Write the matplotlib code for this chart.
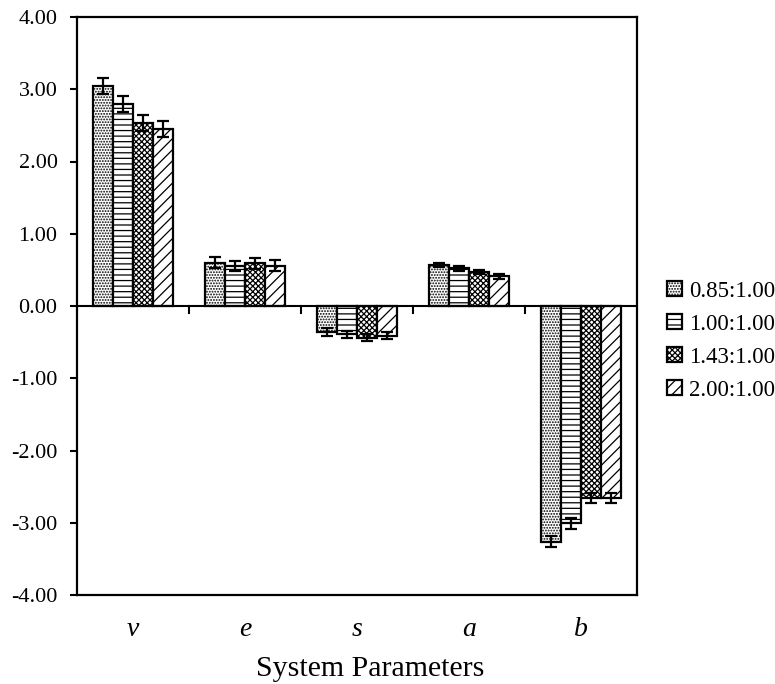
import matplotlib
matplotlib.use("Agg")
import matplotlib.pyplot as plt
import numpy as np

categories = ["v", "e", "s", "a", "b"]
series_names = ["0.85:1.00", "1.00:1.00", "1.43:1.00", "2.00:1.00"]
vals_085 = [3.04, 0.60, -0.36, 0.57, -3.26]
vals_100 = [2.80, 0.55, -0.39, 0.52, -3.01]
vals_143 = [2.53, 0.59, -0.44, 0.47, -2.66]
vals_200 = [2.45, 0.56, -0.41, 0.41, -2.66]
err_085 = [0.11, 0.08, 0.05, 0.03, 0.07]
err_100 = [0.11, 0.07, 0.05, 0.03, 0.07]
err_143 = [0.11, 0.08, 0.05, 0.03, 0.07]
err_200 = [0.11, 0.08, 0.05, 0.03, 0.07]
yticks = [-4, -3, -2, -1, 0, 1, 2, 3, 4]

plt.rcParams['font.family'] = ['Liberation Serif', 'DejaVu Serif']
plt.rcParams['hatch.linewidth'] = 0.9

fig = plt.figure(figsize=(7.75, 6.84), dpi=100)
ax = fig.add_axes([77/775, 1-595/684, (637-77)/775, (595-17)/684])

series = [vals_085, vals_100, vals_143, vals_200]
errs = [err_085, err_100, err_143, err_200]
hatches = ['......', '---', 'xxxxxx', '///']
x = np.arange(len(categories))
w = 0.18
for i, (v, e, h, n) in enumerate(zip(series, errs, hatches, series_names)):
    ax.bar(x + (i - 1.5) * w, v, w, yerr=e, color='white', edgecolor='black',
           linewidth=1.6, hatch=h, label=n,
           error_kw=dict(ecolor='black', elinewidth=1.6, capsize=4, capthick=1.6))

ax.set_xlim(-0.5, len(categories) - 0.5)
ax.set_ylim(-4, 4)
ax.set_yticks(yticks)
ax.set_yticklabels([f"{t:.2f}" for t in yticks], fontsize=16)
ax.tick_params(axis='y', direction='out', length=5, width=1.5, pad=9)
ax.set_xticks([])
for xb in np.arange(0.5, len(categories) - 0.5, 1):
    ax.plot([xb, xb], [0, -0.1], color='black', lw=1.5, clip_on=False)
ax.axhline(0, color='black', lw=1.5)
for xi, c in zip(x, categories):
    ax.text(xi, -4.3, c, ha='center', va='top', fontsize=20, style='italic',
            transform=ax.transData)
ax.text(0.523, -0.105, "System Parameters", ha='center', va='top', fontsize=21.5,
        transform=ax.transAxes)
for s in ax.spines.values():
    s.set_linewidth(1.6)

leg = ax.legend(loc='center left', bbox_to_anchor=(1.021, 0.44), frameon=False,
                fontsize=16.5, handlelength=0.65, handleheight=0.65, handletextpad=0.3,
                labelspacing=0.52, borderaxespad=0.4)

fig.savefig("out.png", dpi=100)
